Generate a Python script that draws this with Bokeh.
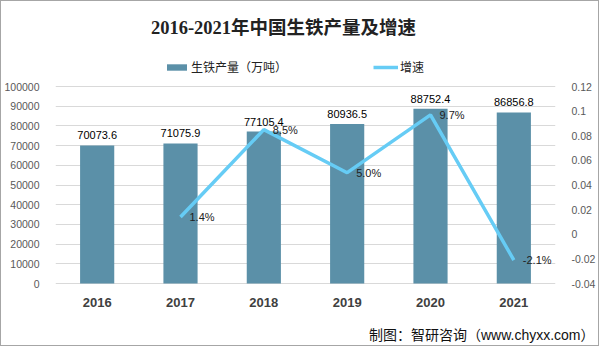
from bokeh.plotting import figure
from bokeh.models import (ColumnDataSource, Range1d, LinearAxis, FixedTicker, CustomJSTickFormatter,
                          Legend, LegendItem, LabelSet, Label, Title)
from bokeh.core.properties import value
from bokeh.embed import file_html
from bokeh.resources import INLINE

years = ["2016", "2017", "2018", "2019", "2020", "2021"]
output = [70073.6, 71075.9, 77105.4, 80936.5, 88752.4, 86856.8]
growth_years = ["2017", "2018", "2019", "2020", "2021"]
growth = [0.014, 0.085, 0.050, 0.097, -0.021]
growth_labels = ["1.4%", "8.5%", "5.0%", "9.7%", "-2.1%"]
left_ticks = [0, 10000, 20000, 30000, 40000, 50000, 60000, 70000, 80000, 90000, 100000]
right_ticks = [-0.04, -0.02, 0, 0.02, 0.04, 0.06, 0.08, 0.1, 0.12]

BAR = "#5B90A8"
LINE = "#66CCF5"
CJK = "Liberation Sans, Noto Sans CJK SC"

# layout (pixels): frame 500 x 320; value axis 0..100000 occupies 197 px starting 38 px above frame bottom
FH, ZERO_PX, SPAN_PX = 320, 38, 197
top_px = FH - ZERO_PX - SPAN_PX
y_lo = -ZERO_PX / SPAN_PX * 100000
y_hi = 100000 + top_px / SPAN_PX * 100000
g_lo = -0.04 - ZERO_PX / SPAN_PX * 0.16
g_hi = 0.12 + top_px / SPAN_PX * 0.16

bar_src = ColumnDataSource(dict(x=years, y=output, lab=[str(v) for v in output]))
line_src = ColumnDataSource(dict(x=growth_years, y=growth, lab=growth_labels))
year_src = ColumnDataSource(dict(x=years, lab=years))

p = figure(x_range=years, y_range=Range1d(y_lo, y_hi), frame_width=500, frame_height=FH,
           output_backend="svg", toolbar_location=None,
           min_border_left=48, min_border_right=39, min_border_top=0, min_border_bottom=0)
p.styles = {"border": "1px solid #a6a6a6"}
p.outline_line_color = None
p.extra_y_ranges = {"g": Range1d(g_lo, g_hi)}

bars = p.vbar(x="x", top="y", width=0.41, source=bar_src, color=BAR, line_color=None)
line = p.line(x="x", y="y", source=line_src, y_range_name="g", line_color=LINE, line_width=3.5)

# axes
p.yaxis.ticker = FixedTicker(ticks=left_ticks)
p.yaxis.formatter.use_scientific = False
ra = LinearAxis(y_range_name="g", ticker=FixedTicker(ticks=right_ticks),
                formatter=CustomJSTickFormatter(code="return String(Math.round(tick*100)/100);"))
p.add_layout(ra, "right")
for ax in (p.yaxis[0], ra):
    ax.axis_line_color = None
    ax.major_tick_line_color = None
    ax.minor_tick_line_color = None
    ax.major_label_text_color = "#595959"
    ax.major_label_text_font = CJK
    ax.major_label_text_font_size = "10.5px"
    ax.major_label_standoff = 10
p.xaxis.visible = False
p.xgrid.grid_line_color = None
p.ygrid.grid_line_color = "#d9d9d9"
p.ygrid.ticker = FixedTicker(ticks=left_ticks)

# category labels (drawn under the zero line)
p.add_layout(LabelSet(x="x", y=0, text="lab", source=year_src, text_align="center",
                      text_baseline="middle", y_offset=-19, text_font_size="13px",
                      text_font_style="bold", text_color="#404040", text_font=value(CJK)))

# data labels
p.add_layout(LabelSet(x="x", y="y", text="lab", source=bar_src, text_align="center",
                      text_baseline="bottom", y_offset=6, text_font_size="11px",
                      text_color="#000000", text_font=value(CJK)))
p.add_layout(LabelSet(x="x", y="y", text="lab", source=line_src, y_range_name="g",
                      text_align="left", text_baseline="middle", x_offset=9,
                      text_font_size="11px", text_color="#222222", text_font=value(CJK)))

# legend
legend = Legend(items=[LegendItem(label="生铁产量（万吨）", renderers=[bars]),
                       LegendItem(label="增速", renderers=[line])],
                orientation="horizontal", location=(109, 246), padding=0, margin=0,
                spacing=86, glyph_width=25, glyph_height=8, label_height=14, label_standoff=2,
                label_text_font_size="12px", label_text_font=CJK, label_text_color="#222222",
                border_line_color=None, background_fill_alpha=0)
p.add_layout(legend, "center")

# title
p.add_layout(Label(x=228, y=294, x_units="screen", y_units="screen",
                   text="2016-2021年中国生铁产量及增速", text_align="center", text_baseline="middle",
                   text_font="Liberation Serif, Noto Sans CJK SC",
                   text_font_style="bold", text_font_size="18.5px", text_color="#222222"))

# source note
src = Title(text="制图：智研咨询（www.chyxx.com）", align="right", offset=-39, standoff=6,
            text_font=CJK, text_font_size="14px", text_font_style="normal", text_color="#111111")
p.add_layout(src, "below")

open("out.html", "w").write(file_html(p, INLINE))
